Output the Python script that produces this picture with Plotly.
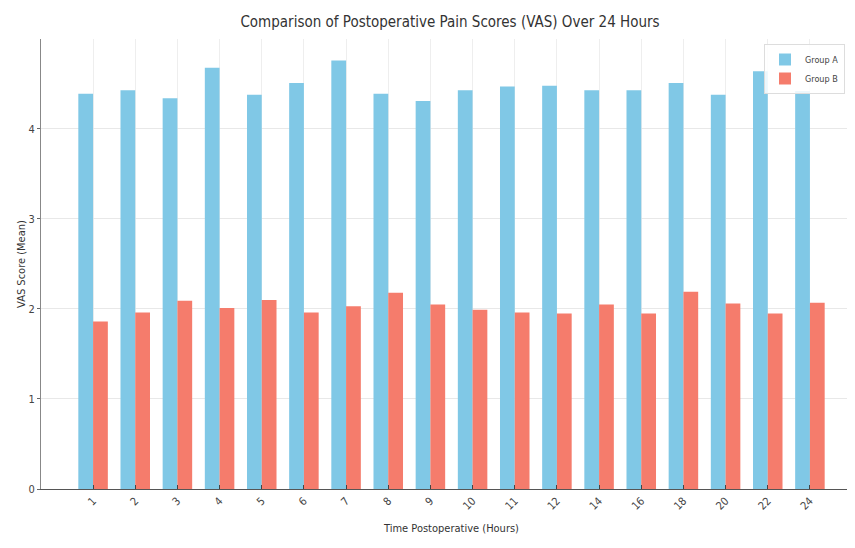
import plotly.graph_objects as go

hours = ["1", "2", "3", "4", "5", "6", "7", "8", "9", "10", "11", "12", "14", "16", "18", "20", "22", "24"]
group_a = [4.39, 4.43, 4.34, 4.68, 4.38, 4.51, 4.76, 4.39, 4.31, 4.43, 4.47, 4.48, 4.43, 4.43, 4.51, 4.38, 4.64, 4.42]
group_b = [1.86, 1.96, 2.09, 2.01, 2.10, 1.96, 2.03, 2.18, 2.05, 1.99, 1.96, 1.95, 2.05, 1.95, 2.19, 2.06, 1.95, 2.07]
y_ticks = [0, 1, 2, 3, 4]

FONT = "DejaVu Sans Condensed, DejaVu Sans, sans-serif"

# page body has an 8px margin, so the figure is offset by (8, 8) in the window
fig = go.Figure()
fig.add_trace(go.Bar(x=hours, y=group_a, name="Group A", marker=dict(color="#80C8E6", line=dict(width=0))))
fig.add_trace(go.Bar(x=hours, y=group_b, name="Group B", marker=dict(color="#F57C6C", line=dict(width=0))))

fig.update_layout(
    width=855, height=548,
    barmode="group", bargap=0.3, bargroupgap=0,
    paper_bgcolor="white", plot_bgcolor="white",
    margin=dict(l=33, r=1, t=31, b=67, autoexpand=False),
    font=dict(family=FONT, size=11, color="#333333"),
    title=dict(text="Comparison of Postoperative Pain Scores (VAS) Over 24 Hours",
               x=442/855, xref="container", xanchor="center",
               y=1-14/548, yref="container", yanchor="middle",
               font=dict(family=FONT, size=15, color="#333333")),
    legend=dict(x=(764-41)/821, xanchor="left", y=1-(44-39)/450, yanchor="top",
                bgcolor="rgba(255,255,255,0.85)", bordercolor="#DDDDDD", borderwidth=1,
                font=dict(size=9, color="#444444"), itemwidth=30, tracegroupgap=0),
    showlegend=True,
)
fig.update_xaxes(
    type="category", range=[-1.235, 18.235], automargin=False,
    title=dict(text="Time Postoperative (Hours)", font=dict(size=11, color="#333333"), standoff=12),
    tickangle=-45, ticks="inside", ticklen=4, tickcolor="#444444",
    showgrid=True, gridcolor="#EEEEEE", gridwidth=1,
    showline=True, linecolor="#555555", linewidth=1.2,
    tickfont=dict(size=11, color="#444444"),
)
fig.update_yaxes(
    range=[0, 4.998], tickvals=y_ticks, automargin=False,
    title=dict(text="VAS Score (Mean)", font=dict(size=11, color="#333333"), standoff=0),
    ticks="outside", ticklen=3, tickcolor="#666666",
    showgrid=True, gridcolor="#E8E8E8", gridwidth=1, zeroline=False,
    showline=True, linecolor="#888888", linewidth=1,
    tickfont=dict(size=11, color="#444444"),
)

fig.write_html("out.html")
